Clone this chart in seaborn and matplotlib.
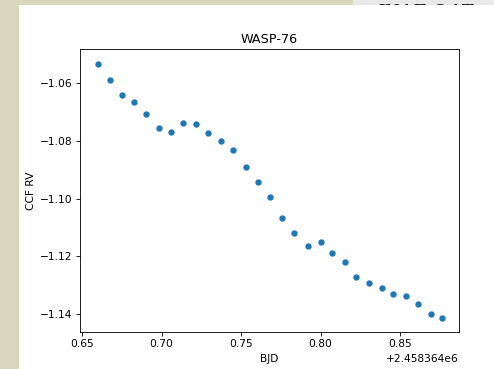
import matplotlib
matplotlib.use("Agg")
import matplotlib.pyplot as plt
from matplotlib.patches import Rectangle
import numpy as np
import pandas as pd
import seaborn as sns

bjd_offset = 2458364.0
bjd_frac = [0.6601, 0.6676, 0.6751, 0.6826, 0.6901, 0.6983, 0.7059, 0.7135,
            0.7216, 0.7292, 0.7374, 0.7450, 0.7531, 0.7607, 0.7683, 0.7758,
            0.7834, 0.7922, 0.8000, 0.8069, 0.8151, 0.8226, 0.8302, 0.8384,
            0.8456, 0.8538, 0.8613, 0.8695, 0.8765]
ccf_rv = [-1.0534, -1.0590, -1.0642, -1.0666, -1.0707, -1.0756, -1.0770, -1.0739,
          -1.0742, -1.0773, -1.0801, -1.0832, -1.0891, -1.0943, -1.0995, -1.1068,
          -1.1120, -1.1164, -1.1151, -1.1189, -1.1220, -1.1272, -1.1293, -1.1310,
          -1.1331, -1.1338, -1.1365, -1.1400, -1.1414]

df = pd.DataFrame({"BJD": bjd_offset + np.array(bjd_frac), "CCF RV": ccf_rv})

sc = 0.764  # the original figure is shown scaled down
plt.rcParams.update({
    "font.size": 10 * sc,
    "axes.linewidth": 0.8 * sc,
    "xtick.major.width": 0.8 * sc,
    "ytick.major.width": 0.8 * sc,
    "xtick.major.size": 3.5 * sc,
    "ytick.major.size": 3.5 * sc,
    "xtick.major.pad": 3.5 * sc,
    "ytick.major.pad": 3.5 * sc,
    "axes.titlepad": 6 * sc,
    "axes.labelpad": 4 * sc,
})

W, H = 494, 369
fig = plt.figure(figsize=(W / 100, H / 100), dpi=100)
fig.patch.set_facecolor("#d8d6bb")

# screenshot surroundings
fig.patches.append(Rectangle((353 / W, 0), 1, 1, transform=fig.transFigure,
                             facecolor="#e9e9e9", edgecolor="none", zorder=-3))
fig.text(376 / W, (H - 18) / H, "INAF OAT-", fontsize=16, family="Liberation Serif",
         style="italic", color="#111111", zorder=-2)
fig.patches.append(Rectangle((19 / W, 0), 1, (H - 5) / H, transform=fig.transFigure,
                             facecolor="white", edgecolor="none", zorder=-1))

ax = fig.add_axes([80 / W, (H - 332) / H, 379 / W, 283 / H])
sns.scatterplot(data=df, x="BJD", y="CCF RV", ax=ax, color="#1f77b4",
                s=21, linewidth=0)
ax.set_xlim(bjd_offset + 0.6487, bjd_offset + 0.8871)
ax.set_ylim(-1.1462, -1.0482)
ax.set_xticks(bjd_offset + np.array([0.65, 0.70, 0.75, 0.80, 0.85]))
ax.set_yticks([-1.06, -1.08, -1.10, -1.12, -1.14])
ax.set_title("WASP-76", fontsize=12 * sc)

fig.savefig("out.png", dpi=100, facecolor=fig.get_facecolor())
